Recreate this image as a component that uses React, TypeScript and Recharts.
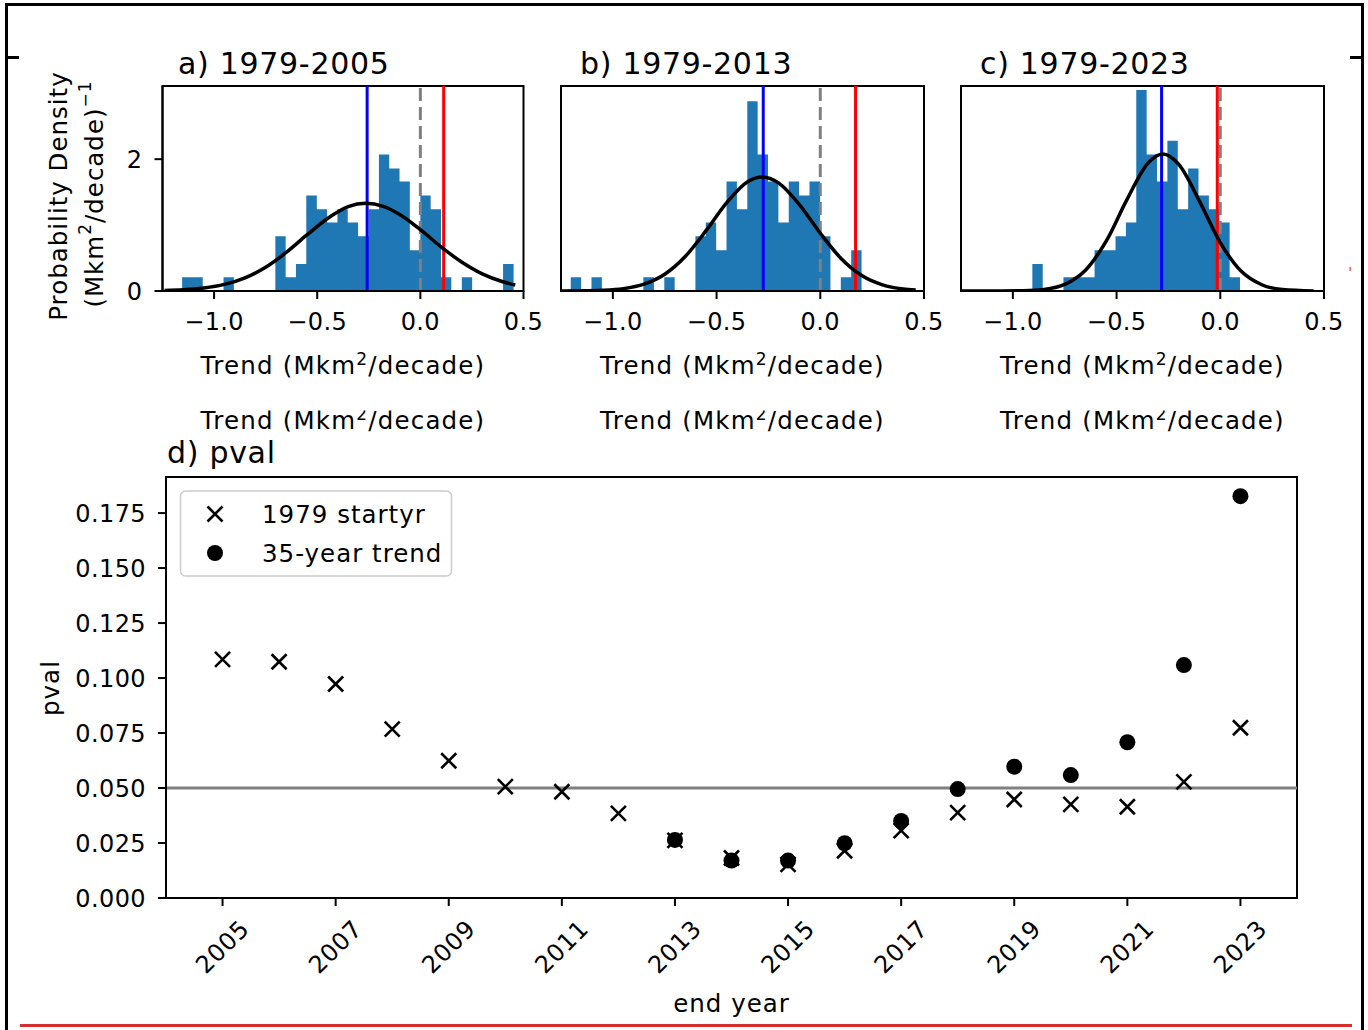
import React from 'react';
import {
  ComposedChart,
  ScatterChart,
  Area,
  Line,
  Scatter,
  XAxis,
  YAxis,
  ReferenceLine,
  ReferenceArea,
} from 'recharts';

const W = 1368;
const H = 1030;
const FONT = "'DejaVu Sans', sans-serif";

// ---- histograms (density of trends) ----
const histXTicks = [-1.0, -0.5, 0.0, 0.5];
const histYTicks = [0, 2];

const edgesA = [
  -1.155, -1.105, -1.055, -1.004, -0.954, -0.904, -0.854, -0.804, -0.753, -0.703, -0.653,
  -0.603, -0.553, -0.502, -0.452, -0.402, -0.352, -0.302, -0.251, -0.201, -0.151, -0.101,
  -0.051, 0.0, 0.05, 0.1, 0.15, 0.201, 0.251, 0.301, 0.351, 0.401, 0.452,
];
const densityA = [
  0.21, 0.21, 0, 0, 0.21, 0, 0, 0, 0, 0.83, 0.21, 0.41, 1.45, 1.24, 1.04, 1.24, 1.04, 0.83,
  1.24, 2.07, 1.86, 1.66, 0.62, 1.45, 1.24, 0.21, 0, 0.21, 0, 0, 0, 0.41, 0,
];
const curveXA = [-1.24, -1.15, -1.05, -0.95, -0.85, -0.75, -0.65, -0.55, -0.45, -0.35, -0.265, -0.18, -0.1, 0.0, 0.1, 0.2, 0.3, 0.4, 0.46];
const curveYA = [0.008, 0.018, 0.045, 0.1, 0.2, 0.36, 0.585, 0.85, 1.1, 1.28, 1.33, 1.285, 1.16, 0.93, 0.67, 0.44, 0.26, 0.14, 0.09];

const edgesB = [
  -1.203, -1.153, -1.103, -1.053, -1.003, -0.953, -0.903, -0.853, -0.802, -0.752, -0.702,
  -0.652, -0.602, -0.552, -0.502, -0.452, -0.402, -0.352, -0.302, -0.252, -0.202, -0.152,
  -0.102, -0.052, -0.001, 0.049, 0.099, 0.149, 0.199,
];
const densityB = [
  0.21, 0, 0.21, 0, 0, 0, 0, 0.21, 0, 0.21, 0, 0, 0.83, 1.04, 0.62, 1.66, 1.24, 2.88, 2.07,
  1.66, 1.04, 1.66, 1.45, 1.66, 0.83, 0, 0.21, 0.62, 0,
];
const curveXB = [-1.255, -1.15, -1.05, -0.95, -0.85, -0.75, -0.65, -0.55, -0.45, -0.35, -0.28, -0.2, -0.1, 0.0, 0.1, 0.2, 0.3, 0.4, 0.46];
const curveYB = [0.0004, 0.0024, 0.01, 0.035, 0.103, 0.254, 0.527, 0.919, 1.346, 1.658, 1.73, 1.637, 1.306, 0.876, 0.494, 0.234, 0.093, 0.031, 0.015];

const edgesC = [
  -0.906, -0.856, -0.806, -0.756, -0.706, -0.656, -0.606, -0.555, -0.505, -0.455, -0.405,
  -0.355, -0.305, -0.255, -0.205, -0.155, -0.105, -0.055, -0.005, 0.045, 0.095,
];
const densityC = [
  0.41, 0, 0, 0.21, 0.21, 0.21, 0.62, 0.62, 0.83, 1.04, 3.05, 2.07, 1.66, 2.28, 1.24, 1.86,
  1.45, 1.24, 1.04, 0.21, 0,
];
const curveXC = [-1.25, -1.15, -1.05, -0.95, -0.85, -0.75, -0.65, -0.55, -0.45, -0.35, -0.277, -0.2, -0.1, 0.0, 0.1, 0.2, 0.3, 0.45];
const curveYC = [0, 0.0001, 0.0006, 0.0045, 0.024, 0.1, 0.315, 0.757, 1.386, 1.935, 2.08, 1.92, 1.36, 0.734, 0.302, 0.095, 0.023, 0.0016];

// mean of the distribution (blue) and observed trend (red)
const meanTrends = [-0.258, -0.275, -0.283];
const obsTrends = [0.113, 0.17, -0.0145];

// ---- pval panel ----
const endYears = [2005, 2006, 2007, 2008, 2009, 2010, 2011, 2012, 2013, 2014, 2015, 2016, 2017, 2018, 2019, 2020, 2021, 2022, 2023];
const pval1979 = [0.1085, 0.1074, 0.0973, 0.0768, 0.0624, 0.0506, 0.0483, 0.0385, 0.0262, 0.0182, 0.0153, 0.0215, 0.0306, 0.0388, 0.0448, 0.0426, 0.0415, 0.0528, 0.0774];
const trendYears35 = [2013, 2014, 2015, 2016, 2017, 2018, 2019, 2020, 2021, 2022, 2023];
const pval35 = [0.0264, 0.017, 0.017, 0.0249, 0.035, 0.0495, 0.0597, 0.0559, 0.0708, 0.1059, 0.1827];
const yearTicks = [2005, 2007, 2009, 2011, 2013, 2015, 2017, 2019, 2021, 2023];
const pvalTicks = [0, 0.025, 0.05, 0.075, 0.1, 0.125, 0.15, 0.175];

const axisStyle = { stroke: '#000', strokeWidth: 2 };
const tickStyle = { fontSize: 24, fill: '#000', fontFamily: FONT, letterSpacing: 0.4 };
const fmtTrend = (v: number) => (v < 0 ? '\u2212' : '') + Math.abs(v).toFixed(1);

const HIST_TOP = 86;
const HIST_BOTTOM = 291;
const HIST_YMAX = 3.11;

type HistProps = {
  edges: number[];
  density: number[];
  curveX: number[];
  curveY: number[];
  mean: number;
  obs: number;
  left: number;
  right: number;
  showYLabels: boolean;
};

function Histogram({ edges, density, curveX, curveY, mean, obs, left, right, showYLabels }: HistProps) {
  const bins = edges.map((x, i) => ({ x, d: density[i] }));
  const curve = curveX.map((x, i) => ({ x, y: curveY[i] }));
  return (
    <div style={{ position: 'absolute', left: 0, top: 0 }}>
      <ComposedChart
        width={W}
        height={H}
        data={bins}
        margin={{ top: HIST_TOP, bottom: H - HIST_BOTTOM - 60, left: left - 60, right: W - right }}
      >
        <XAxis
          type="number"
          dataKey="x"
          domain={[-1.25, 0.5]}
          allowDataOverflow
          ticks={histXTicks}
          interval={0}
          tickFormatter={fmtTrend}
          height={60}
          tickSize={8}
          tickMargin={14}
          axisLine={axisStyle}
          tickLine={axisStyle}
          tick={tickStyle}
        />
        <YAxis
          type="number"
          domain={[0, HIST_YMAX]}
          allowDataOverflow
          ticks={histYTicks}
          interval={0}
          width={60}
          tickSize={8}
          tickMargin={12}
          axisLine={axisStyle}
          tickLine={axisStyle}
          tick={showYLabels ? tickStyle : false}
        />
        <Area
          type="stepAfter"
          dataKey="d"
          fill="#1f77b4"
          fillOpacity={1}
          stroke="none"
          dot={false}
          activeDot={false}
          isAnimationActive={false}
        />
        <ReferenceLine x={mean} stroke="#0000ff" strokeWidth={3} />
        <ReferenceLine x={0} stroke="#808080" strokeWidth={3} strokeDasharray="13 6" />
        <ReferenceLine x={obs} stroke="#ff0000" strokeWidth={3} />
        <Line
          data={curve}
          type="monotone"
          dataKey="y"
          stroke="#000"
          strokeWidth={3.5}
          dot={false}
          activeDot={false}
          isAnimationActive={false}
        />
        <ReferenceArea
          x1={-1.25}
          x2={0.5}
          y1={0}
          y2={HIST_YMAX}
          fill="none"
          stroke="#000"
          strokeWidth={2}
          ifOverflow="visible"
        />
      </ComposedChart>
    </div>
  );
}

const CrossMark = (props: any) => {
  const { cx, cy } = props;
  const s = 7.5;
  return (
    <path
      d={`M${cx - s},${cy - s}L${cx + s},${cy + s}M${cx - s},${cy + s}L${cx + s},${cy - s}`}
      stroke="#000"
      strokeWidth={2.6}
      fill="none"
    />
  );
};

const DotMark = (props: any) => <circle cx={props.cx} cy={props.cy} r={8} fill="#000" />;

const YearTick = (props: any) => {
  const { x, y, payload } = props;
  return (
    <text
      transform={`translate(${x},${y}) rotate(-45)`}
      textAnchor="middle"
      dominantBaseline="central"
      fontSize={24}
      letterSpacing={0.6}
      fill="#000"
      fontFamily={FONT}
    >
      {payload.value}
    </text>
  );
};

function PvalPanel() {
  const startyr = endYears.map((year, i) => ({ year, p: pval1979[i] }));
  const trend35 = trendYears35.map((year, i) => ({ year, p: pval35[i] }));
  const top = 477;
  const bottom = 898;
  const left = 166;
  const right = 1297;
  return (
    <div style={{ position: 'absolute', left: 0, top: 0 }}>
      <ScatterChart
        width={W}
        height={H}
        margin={{ top, bottom: H - bottom - 100, left: left - 90, right: W - right }}
      >
        <XAxis
          type="number"
          dataKey="year"
          domain={[2004, 2024]}
          allowDataOverflow
          ticks={yearTicks}
          interval={0}
          height={100}
          tickSize={8}
          tickMargin={41}
          axisLine={axisStyle}
          tickLine={axisStyle}
          tick={<YearTick />}
        />
        <YAxis
          type="number"
          dataKey="p"
          domain={[0, 0.1914]}
          allowDataOverflow
          ticks={pvalTicks}
          interval={0}
          tickFormatter={(v: number) => v.toFixed(3)}
          width={90}
          tickSize={8}
          tickMargin={12}
          axisLine={axisStyle}
          tickLine={axisStyle}
          tick={tickStyle}
        />
        <Scatter data={startyr} shape={CrossMark} isAnimationActive={false} />
        <Scatter data={trend35} shape={DotMark} isAnimationActive={false} />
        <ReferenceLine y={0.05} stroke="#808080" strokeWidth={3} />
        <ReferenceArea
          x1={2004}
          x2={2024}
          y1={0}
          y2={0.1914}
          fill="none"
          stroke="#000"
          strokeWidth={2}
          ifOverflow="visible"
        />
      </ScatterChart>
    </div>
  );
}

const Sup = ({ children }: { children: React.ReactNode }) => (
  <tspan dy={-9} fontSize={17}>
    {children}
  </tspan>
);

function TrendLabel({ x, y }: { x: number; y: number }) {
  return (
    <text x={x} y={y} textAnchor="middle" fontSize={24.5} letterSpacing={1.2} fill="#000" fontFamily={FONT}>
      Trend (Mkm<Sup>2</Sup>
      <tspan dy={9}>/decade)</tspan>
    </text>
  );
}

function Overlay() {
  const centers = [343, 742.5, 1142.5];
  return (
    <svg
      width={W}
      height={H}
      style={{ position: 'absolute', left: 0, top: 0, pointerEvents: 'none' }}
      fontFamily={FONT}
    >
      <defs>
        <clipPath id="cutBand">
          <rect x={0} y={410.5} width={W} height={21} />
        </clipPath>
      </defs>

      {/* panel titles */}
      <g fontSize={30} letterSpacing={0.7} fill="#000">
        <text x={178} y={73.5}>a) 1979-2005</text>
        <text x={580} y={73.5}>b) 1979-2013</text>
        <text x={980} y={73.5}>c) 1979-2023</text>
        <text x={167} y={463}>d) pval</text>
      </g>

      {/* histogram y label */}
      <g fontSize={24.5} letterSpacing={1} fill="#000">
        <text transform="translate(58,196) rotate(-90)" textAnchor="middle" dominantBaseline="central">
          Probability Density
        </text>
        <text transform="translate(94,194) rotate(-90)" textAnchor="middle" dominantBaseline="central">
          (Mkm<Sup>2</Sup>
          <tspan dy={9}>/decade)</tspan>
          <Sup>{'\u22121'}</Sup>
        </text>
      </g>

      {/* histogram x labels */}
      {centers.map((c) => (
        <TrendLabel key={c} x={c} y={374} />
      ))}
      <g clipPath="url(#cutBand)">
        {centers.map((c) => (
          <TrendLabel key={`cut${c}`} x={c} y={429} />
        ))}
      </g>

      {/* pval labels */}
      <g fontSize={24.5} letterSpacing={1} fill="#000">
        <text transform="translate(50,688) rotate(-90)" textAnchor="middle" dominantBaseline="central">
          pval
        </text>
        <text x={731.5} y={1012} textAnchor="middle">end year</text>
      </g>

      {/* legend */}
      <rect x={180.5} y={491} width={271} height={85} rx={5} fill="#fff" fillOpacity={0.8} stroke="#cccccc" strokeWidth={1.5} />
      <CrossMark cx={215} cy={514} />
      <DotMark cx={215} cy={553} />
      <g fontSize={24.5} letterSpacing={1} fill="#000">
        <text x={262} y={523}>1979 startyr</text>
        <text x={262} y={562}>35-year trend</text>
      </g>

      {/* screenshot frame */}
      <rect x={5} y={3} width={1359} height={3} fill="#000" />
      <rect x={5} y={3} width={3} height={1027} fill="#000" />
      <rect x={1361} y={3} width={3} height={1027} fill="#000" />
      <rect x={8} y={56} width={11} height={3} fill="#000" />
      <rect x={1350} y={56} width={11} height={3} fill="#000" />
      <rect x={20} y={1024} width={1332} height={3} fill="#d32f2f" />
      <rect x={1349.5} y={267} width={1.2} height={4} fill="#e53935" />
    </svg>
  );
}

export default function App() {
  return (
    <div
      style={{
        position: 'absolute',
        left: 0,
        top: 0,
        width: W,
        height: H,
        background: '#fff',
        fontFamily: FONT,
        overflow: 'hidden',
      }}
    >
      <Histogram
        edges={edgesA}
        density={densityA}
        curveX={curveXA}
        curveY={curveYA}
        mean={meanTrends[0]}
        obs={obsTrends[0]}
        left={162.5}
        right={523.5}
        showYLabels
      />
      <Histogram
        edges={edgesB}
        density={densityB}
        curveX={curveXB}
        curveY={curveYB}
        mean={meanTrends[1]}
        obs={obsTrends[1]}
        left={561}
        right={924}
        showYLabels={false}
      />
      <Histogram
        edges={edgesC}
        density={densityC}
        curveX={curveXC}
        curveY={curveYC}
        mean={meanTrends[2]}
        obs={obsTrends[2]}
        left={961}
        right={1324}
        showYLabels={false}
      />
      <PvalPanel />
      <Overlay />
    </div>
  );
}
